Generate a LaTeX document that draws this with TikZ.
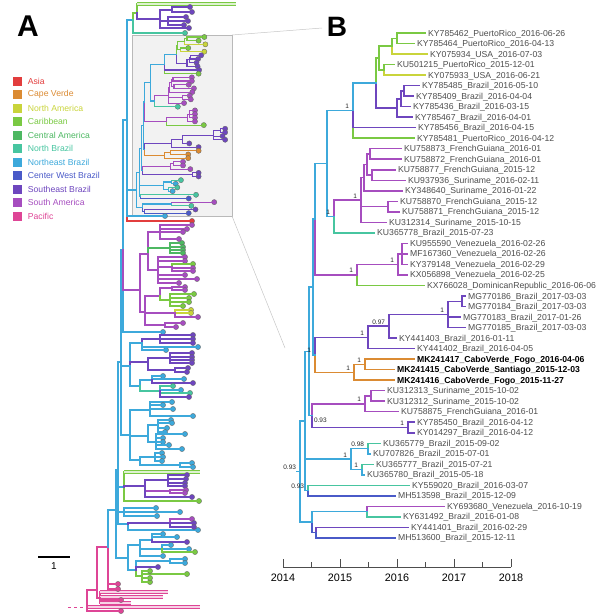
\documentclass[tikz,border=0pt]{standalone}
\usepackage{fontspec}
\setmainfont{Liberation Sans}
\usetikzlibrary{positioning}

\definecolor{asia}{HTML}{E23D3D}
\definecolor{cvd}{HTML}{DB8B33}
\definecolor{nam}{HTML}{C9D43B}
\definecolor{carib}{HTML}{7AC943}
\definecolor{cam}{HTML}{4DB862}
\definecolor{nbr}{HTML}{47C5A0}
\definecolor{nebr}{HTML}{3DA9DB}
\definecolor{cwbr}{HTML}{4A5AC8}
\definecolor{sebr}{HTML}{6E46BE}
\definecolor{sam}{HTML}{A64DBF}
\definecolor{pac}{HTML}{DE4596}
\definecolor{labgray}{HTML}{4D4D4D}

\newcommand{\tipfont}{\fontsize{8.65}{9}\selectfont}
\newcommand{\taxon}[1]{#1}

\tikzset{
  br/.style={line width=1.5pt, line cap=rect},
  abr/.style={line width=1.1pt, line cap=rect},
  tipdot/.style={circle, draw=black!60, line width=0.35pt, fill=#1, inner sep=0pt, minimum size=5.2pt, anchor=west},
  label tip/.style={anchor=west, inner xsep=3pt, inner ysep=0pt, text height=7pt, text depth=1pt, text=labgray, font=\tipfont},
  bold tip/.style={font=\tipfont\bfseries, text=black},
  supp/.style={anchor=south east, inner sep=0.8pt, xshift=-3pt, yshift=1pt, font=\fontsize{6.5}{7}\selectfont, text=black!85},
  barbr/.style={draw=#1, double=#1!25, double distance=1.6pt, line width=0.8pt},
  legsq/.style={rectangle, inner sep=0pt, minimum size=9pt},
  legtx/.style={font=\tipfont, inner sep=1pt, anchor=west},
}

% comb of tip dots hanging from one node
\newcommand{\tips}[2]{%
  \foreach \tx/\ty/\tc in {#2} {
    \node[tipdot=\tc, anchor=center] (leafdot) at (\tx,\ty) {};
    \draw[abr, draw=\tc] (#1) |- (leafdot);
  }}

% the Cabo Verde subtree, drawn in panel B and again inside the box of panel A
\newcommand{\zikatree}{%
  \node[leaf=carib] (t1) at (425,1) {\taxon{KY785462\_PuertoRico\_2016-06-26}};
  \node[leaf=carib] (t2) at (414,2) {\taxon{KY785464\_PuertoRico\_2016-04-13}};
  \node[leaf=nam] (t3) at (427,3) {\taxon{KY075934\_USA\_2016-07-03}};
  \node[leaf=carib] (t4) at (394,4) {\taxon{KU501215\_PuertoRico\_2015-12-01}};
  \node[leaf=nam] (t5) at (425,5) {\taxon{KY075933\_USA\_2016-06-21}};
  \node[leaf=sebr] (t6) at (419,6) {\taxon{KY785485\_Brazil\_2016-05-10}};
  \node[leaf=sebr] (t7) at (413,7) {\taxon{KY785409\_Brazil\_2016-04-04}};
  \node[leaf=sebr] (t8) at (410,8) {\taxon{KY785436\_Brazil\_2016-03-15}};
  \node[leaf=sebr] (t9) at (412,9) {\taxon{KY785467\_Brazil\_2016-04-01}};
  \node[leaf=sebr] (t10) at (415,10) {\taxon{KY785456\_Brazil\_2016-04-15}};
  \node[leaf=carib] (t11) at (414,11) {\taxon{KY785481\_PuertoRico\_2016-04-12}};
  \node[leaf=sam] (t12) at (401,12) {\taxon{KU758873\_FrenchGuiana\_2016-01}};
  \node[leaf=sam] (t13) at (401,13) {\taxon{KU758872\_FrenchGuiana\_2016-01}};
  \node[leaf=sam] (t14) at (395,14) {\taxon{KU758877\_FrenchGuiana\_2015-12}};
  \node[leaf=sam] (t15) at (405,15) {\taxon{KU937936\_Suriname\_2016-02-11}};
  \node[leaf=sam] (t16) at (402,16) {\taxon{KY348640\_Suriname\_2016-01-22}};
  \node[leaf=sam] (t17) at (397,17) {\taxon{KU758870\_FrenchGuiana\_2015-12}};
  \node[leaf=sam] (t18) at (399,18) {\taxon{KU758871\_FrenchGuiana\_2015-12}};
  \node[leaf=sam] (t19) at (386,19) {\taxon{KU312314\_Suriname\_2015-10-15}};
  \node[leaf=nbr] (t20) at (374,20) {\taxon{KU365778\_Brazil\_2015-07-23}};
  \node[leaf=sam] (t21) at (407,21) {\taxon{KU955590\_Venezuela\_2016-02-26}};
  \node[leaf=sam] (t22) at (407,22) {\taxon{MF167360\_Venezuela\_2016-02-26}};
  \node[leaf=sam] (t23) at (407,23) {\taxon{KY379148\_Venezuela\_2016-02-29}};
  \node[leaf=sam] (t24) at (407,24) {\taxon{KX056898\_Venezuela\_2016-02-25}};
  \node[leaf=carib] (t25) at (424,25) {\taxon{KX766028\_DominicanRepublic\_2016-06-06}};
  \node[leaf=sebr] (t26) at (465,26) {\taxon{MG770186\_Brazil\_2017-03-03}};
  \node[leaf=sebr] (t27) at (465,27) {\taxon{MG770184\_Brazil\_2017-03-03}};
  \node[leaf=sebr] (t28) at (460,28) {\taxon{MG770183\_Brazil\_2017-01-26}};
  \node[leaf=sebr] (t29) at (465,29) {\taxon{MG770185\_Brazil\_2017-03-03}};
  \node[leaf=sebr] (t30) at (396,30) {\taxon{KY441403\_Brazil\_2016-01-11}};
  \node[leaf=sebr] (t31) at (414,31) {\taxon{KY441402\_Brazil\_2016-04-05}};
  \node[leaf=cvd, bold tip] (t32) at (414,32) {\taxon{MK241417\_CaboVerde\_Fogo\_2016-04-06}};
  \node[leaf=cvd, bold tip] (t33) at (394,33) {\taxon{MK241415\_CaboVerde\_Santiago\_2015-12-03}};
  \node[leaf=cvd, bold tip] (t34) at (394,34) {\taxon{MK241416\_CaboVerde\_Fogo\_2015-11-27}};
  \node[leaf=sam] (t35) at (384,35) {\taxon{KU312313\_Suriname\_2015-10-02}};
  \node[leaf=sam] (t36) at (384,36) {\taxon{KU312312\_Suriname\_2015-10-02}};
  \node[leaf=sam] (t37) at (398,37) {\taxon{KU758875\_FrenchGuiana\_2016-01}};
  \node[leaf=sebr] (t38) at (414,38) {\taxon{KY785450\_Brazil\_2016-04-12}};
  \node[leaf=sebr] (t39) at (414,39) {\taxon{KY014297\_Brazil\_2016-04-12}};
  \node[leaf=nbr] (t40) at (380,40) {\taxon{KU365779\_Brazil\_2015-09-02}};
  \node[leaf=nebr] (t41) at (370,41) {\taxon{KU707826\_Brazil\_2015-07-01}};
  \node[leaf=nbr] (t42) at (373,42) {\taxon{KU365777\_Brazil\_2015-07-21}};
  \node[leaf=nebr] (t43) at (364,43) {\taxon{KU365780\_Brazil\_2015-05-18}};
  \node[leaf=nbr] (t44) at (409,44) {\taxon{KY559020\_Brazil\_2016-03-07}};
  \node[leaf=cwbr] (t45) at (395,45) {\taxon{MH513598\_Brazil\_2015-12-09}};
  \node[leaf=sam] (t46) at (444,46) {\taxon{KY693680\_Venezuela\_2016-10-19}};
  \node[leaf=nbr] (t47) at (400,47) {\taxon{KY631492\_Brazil\_2016-01-08}};
  \node[leaf=sebr] (t48) at (408,48) {\taxon{KY441401\_Brazil\_2016-02-29}};
  \node[leaf=cwbr] (t49) at (395,49) {\taxon{MH513600\_Brazil\_2015-12-11}};
  % internal nodes
  \coordinate (g3) at (397,1.5);
  \coordinate (g1) at (392,2.25);
  \coordinate (g2) at (384,4.5);
  \coordinate (g) at (379,3.375);
  \coordinate (p2) at (404,6.5);
  \coordinate (p1) at (401,7.25);
  \coordinate (p) at (397,8.125);
  \coordinate (a) at (376,5.75);
  \coordinate (n1) at (353,8.375);
  \coordinate (f1b) at (370,12.5);
  \coordinate (f1c) at (372,14.5);
  \coordinate (f1a) at (367,13.5);
  \coordinate (f1) at (364,14.75);
  \coordinate (f2) at (388,17.5);
  \coordinate (f) at (361,16.875);
  \coordinate (fg) at (334,18.44);
  \coordinate (nt) at (327,13.41);
  \coordinate (v2) at (402,22);
  \coordinate (v1) at (398,23);
  \coordinate (v) at (357,24);
  \coordinate (u) at (315,18.7);
  \coordinate (m3) at (462,26.5);
  \coordinate (m2) at (448,27.75);
  \coordinate (m1) at (389,28.875);
  \coordinate (m) at (368,29.94);
  \coordinate (c1) at (365,32.5);
  \coordinate (c) at (354,33.25);
  \coordinate (mc) at (315,31.6);
  \coordinate (w) at (313,25.15);
  \coordinate (s1) at (371,35.5);
  \coordinate (s) at (365,36.25);
  \coordinate (k) at (408,38.5);
  \coordinate (sk) at (312,37.375);
  \coordinate (q) at (309,31.26);
  \coordinate (kb1) at (368,40.5);
  \coordinate (kb2) at (362,42.5);
  \coordinate (kb) at (351,41.5);
  \coordinate (b2) at (308,44.5);
  \coordinate (r1) at (305,37.88);
  \coordinate (x1) at (367,46.5);
  \coordinate (x2) at (316,48.5);
  \coordinate (r2) at (312,47.5);
  \coordinate (root) at (300,42.69);
  % branches
  \foreach \c in {t1,t2} \draw[br,carib] (g3) |- (\c);
  \draw[br,carib] (g1) |- (g3);
  \draw[br,nam] (g1) |- (t3);
  \draw[br,carib] (g2) |- (t4);
  \draw[br,nam] (g2) |- (t5);
  \draw[br,carib] (g) |- (g1);
  \draw[br,carib] (g) |- (g2);
  \foreach \c in {t6,t7} \draw[br,sebr] (p2) |- (\c);
  \draw[br,sebr] (p1) |- (p2);
  \draw[br,sebr] (p1) |- (t8);
  \draw[br,sebr] (p) |- (p1);
  \draw[br,sebr] (p) |- (t9);
  \draw[br,carib] (a) |- (g);
  \draw[br,sebr] (a) |- (p);
  \draw[br,carib] (n1) |- (t11);
  \draw[br,sebr] (n1) |- (t10);
  \draw[br,nebr] (n1) |- (a);
  \foreach \c in {t12,t13} \draw[br,sam] (f1b) |- (\c);
  \foreach \c in {t14,t15} \draw[br,sam] (f1c) |- (\c);
  \foreach \c in {f1b,f1c} \draw[br,sam] (f1a) |- (\c);
  \foreach \c in {f1a,t16} \draw[br,sam] (f1) |- (\c);
  \foreach \c in {t17,t18} \draw[br,sam] (f2) |- (\c);
  \foreach \c in {t19,f2,f1} \draw[br,sam] (f) |- (\c);
  \draw[br,nbr] (fg) |- (t20);
  \draw[br,sam] (fg) |- (f);
  \draw[br,nebr] (nt) |- (n1);
  \draw[br,nebr] (nt) |- (fg);
  \foreach \c in {t21,t22,t23} \draw[br,sam] (v2) |- (\c);
  \foreach \c in {v2,t24} \draw[br,sam] (v1) |- (\c);
  \draw[br,sam] (v) |- (v1);
  \draw[br,carib] (v) |- (t25);
  \draw[br,nebr] (u) |- (nt);
  \draw[br,sam] (u) |- (v);
  \foreach \c in {t26,t27} \draw[br,sebr] (m3) |- (\c);
  \foreach \c in {t29,t28,m3} \draw[br,sebr] (m2) |- (\c);
  \foreach \c in {m2,t30} \draw[br,sebr] (m1) |- (\c);
  \foreach \c in {m1,t31} \draw[br,sebr] (m) |- (\c);
  \foreach \c in {t32,t33} \draw[br,cvd] (c1) |- (\c);
  \foreach \c in {c1,t34} \draw[br,cvd] (c) |- (\c);
  \draw[br,sebr] (mc) |- (m);
  \draw[br,cvd] (mc) |- (c);
  \draw[br,nebr] (w) |- (u);
  \draw[br,nebr] (w) |- (mc);
  \foreach \c in {t35,t36} \draw[br,sam] (s1) |- (\c);
  \foreach \c in {s1,t37} \draw[br,sam] (s) |- (\c);
  \foreach \c in {t38,t39} \draw[br,sebr] (k) |- (\c);
  \draw[br,sam] (sk) |- (s);
  \draw[br,sebr] (sk) |- (k);
  \draw[br,nebr] (q) |- (w);
  \draw[br,nebr] (q) |- (sk);
  \draw[br,nbr] (kb1) |- (t40);
  \draw[br,nebr] (kb1) |- (t41);
  \draw[br,nbr] (kb2) |- (t42);
  \draw[br,nebr] (kb2) |- (t43);
  \foreach \c in {kb1,kb2} \draw[br,nebr] (kb) |- (\c);
  \draw[br,nbr] (b2) |- (t44);
  \draw[br,cwbr] (b2) |- (t45);
  \foreach \c in {q,kb,b2} \draw[br,nebr] (r1) |- (\c);
  \draw[br,sam] (x1) |- (t46);
  \draw[br,nbr] (x1) |- (t47);
  \draw[br,sebr] (x2) |- (t48);
  \draw[br,cwbr] (x2) |- (t49);
  \draw[br,nebr] (r2) |- (x1);
  \draw[br,cwbr] (r2) |- (x2);
  \foreach \c in {r1,r2} \draw[br,nebr] (root) |- (\c);
}

\begin{document}
\begin{tikzpicture}[x=1pt, y=-1pt]
\useasboundingbox (0,0) rectangle (600,616);

% zoom box and its guide lines
\draw[gray!55, fill=gray!10, line width=0.8pt] (132,35) rectangle (232,216);
\draw[gray!45, line width=0.5pt] (232,35) -- (322,28);
\draw[gray!45, line width=0.5pt] (232,216) -- (285,348);

% panel letters
\node[font=\fontsize{30}{30}\selectfont\bfseries] (lblA) at (28,26) {A};
\node[font=\fontsize{28}{28}\selectfont\bfseries] (lblB) at (337,27) {B};

% legend
\foreach \nm/\cl [count=\i from 0] in {Asia/asia, Cape Verde/cvd, North America/nam, Caribbean/carib, Central America/cam, North Brazil/nbr, Northeast Brazil/nebr, Center West Brazil/cwbr, Southeast Brazil/sebr, South America/sam, Pacific/pac}
{
	\node[legsq, fill=\cl] (sq\i) at (17.5,81+13.5*\i) {};
	\node[legtx, text=\cl, right=4.5pt of sq\i] {\nm};
}

% scale bar
\coordinate (sbl) at (38,557);
\coordinate (sbr) at (70,557);
\draw[line width=1.5pt] (sbl) -- (sbr) node[midway, below=2pt, font=\fontsize{10}{10}\selectfont] {1};

% time axis of panel B
\draw[labgray, line width=0.7pt] (283,567) -- (511,567);
\foreach \yr [count=\i from 0] in {2014,2015,2016,2017,2018} {
	\draw[labgray, line width=0.7pt] (283+57*\i,567) -- (283+57*\i,559);
	\node[font=\fontsize{10.8}{11}\selectfont, anchor=north] at (283+57*\i,570) {\yr};
}
\foreach \i in {0,...,3}
	\draw[labgray, line width=0.7pt] (311.5+57*\i,567) -- (311.5+57*\i,562);

% ---- panel A: full tree ----
% Pacific root
\coordinate (pkin) at (68,607);
\coordinate (pk0) at (87,607);
\coordinate (pk1) at (97,590);
\coordinate (pk2) at (108,547);
\coordinate (pk3) at (100,598);
\coordinate (pkbar0) at (200,607);
\coordinate (pkbar1) at (168,592);
\coordinate (pkbar2) at (163,597);
\coordinate (pkbar3) at (131,603);
\draw[pac, dashed, line width=0.9pt] (pkin) -- (pk0);
\draw[abr,pac] (pk0) |- (pk1);
\draw[barbr=pac] (pk0) -- (pkbar0);
\tips{pk0}{121/611/pac}
\draw[abr,pac] (pk1) |- (pk2);
\draw[abr,pac] (pk1) |- (pk3);
\foreach \b in {pkbar1,pkbar2,pkbar3} {
	\draw[abr,pac] (pk3) |- (pk3 |- \b);
	\draw[barbr=pac] (pk3 |- \b) -- (\b);
}
\tips{pk3}{121/600/pac}
\tips{pk2}{118/589/pac, 118/584/pac}

% backbone
\coordinate (sp0) at (116,510);
\coordinate (sp1) at (118,470);
\coordinate (sp2) at (121,362);
\coordinate (sp3) at (123,250);
\coordinate (sp4) at (127,120);
\draw[abr,nebr] (pk2) |- (sp0);
\draw[abr,nebr] (sp0) |- (sp1);
\draw[abr,nebr] (sp1) |- (sp2);
\draw[abr,nebr] (sp2) |- (sp3);
\draw[abr,nebr] (sp3) |- (sp4);

% top clade
\coordinate (tc) at (133,20);
\coordinate (tg) at (137,13);
\coordinate (tpu) at (160,19);
\coordinate (tpa) at (172,10);
\coordinate (tpb) at (168,21);
\coordinate (gbar) at (236,4);
\draw[abr,nebr] (sp4) |- (tc);
\draw[abr,carib] (tc) |- (tg);
\draw[abr,carib] (tg) |- (tg |- gbar);
\draw[barbr=carib] (tg |- gbar) -- (gbar);
\draw[abr,sebr] (tg) |- (tpu);
\draw[abr,sebr] (tpu) |- (tpa);
\draw[abr,sebr] (tpu) |- (tpb);
\tips{tpa}{190/7/sebr, 192/12/sebr}
\tips{tpb}{186/17/sebr, 188/21/sebr, 184/25/sebr}
\tips{tpu}{189/28/sebr}
\tips{tc}{185/33/nbr}

% the boxed subtree (same as panel B)
\tips{sp4}{192/221/asia}
\begin{scope}[leaf/.style={tipdot=#1}, br/.style={abr}, x=0.52pt, xshift=-19.44pt, y=-3.67pt, yshift=-33.33pt, name prefix=a-]
	\renewcommand{\taxon}[1]{}
	\zikatree
\end{scope}
\draw[abr,nebr] (sp4) |- (a-root);
\tips{sp4}{165/216/nebr}

% South America clade
\coordinate (sa) at (140,290);
\coordinate (saA) at (148,254);
\coordinate (saA1) at (160,232);
\coordinate (saA2) at (170,248);
\coordinate (saA3) at (158,270);
\coordinate (saA3a) at (172,267);
\coordinate (saB) at (145,312);
\coordinate (saB1) at (160,296);
\coordinate (saB1a) at (172,288);
\coordinate (saB1g) at (170,300);
\coordinate (saB2) at (175,313);
\coordinate (saB3) at (165,325);
\tips{sp3}{163/332/nebr}
\draw[abr,sam] (sp3) |- (sa);
\draw[abr,sam] (sa) |- (saA);
\draw[abr,sam] (sa) |- (saB);
\draw[abr,sam] (saA) |- (saA1);
\draw[abr,cam] (saA) |- (saA2);
\draw[abr,sam] (saA) |- (saA3);
\draw[abr,sam] (saA3) |- (saA3a);
\tips{saA1}{192/225/sam, 187/229/sam, 183/232/sam, 179/239/sam}
\tips{saA2}{182/243/cam, 183/247/cam, 183/250/cam, 183/253/cam}
\tips{saA3}{185/257/sam, 185/261/sam, 179/283/sam, 197/279/sam, 185/275/sam}
\tips{saA3a}{193/264/carib, 193/268/sam, 193/271/sam}
\draw[abr,sam] (saB) |- (saB1);
\draw[abr,sam] (saB) |- (saB2);
\draw[abr,sam] (saB) |- (saB3);
\draw[abr,sam] (saB1) |- (saB1a);
\draw[abr,carib] (saB1) |- (saB1g);
\tips{saB1a}{185/287/sam, 185/290/sam}
\tips{saB1g}{194/294/carib, 189/298/carib, 189/302/carib, 183/306/carib}
\tips{saB2}{191/310/nam, 191/313/nam, 198/317/sam}
\tips{saB3}{183/323/sam, 176/327/sam}

% Southeast Brazil / Northeast Brazil clades
\coordinate (mu) at (130,366);
\coordinate (muA) at (142,343);
\coordinate (muA1) at (160,339);
\coordinate (muC) at (148,362);
\coordinate (muC1) at (170,358);
\coordinate (muC2) at (175,370);
\coordinate (muB) at (140,386);
\coordinate (muB1) at (152,380);
\coordinate (muB2) at (160,391);
\draw[abr,nebr] (sp2) |- (mu);
\draw[abr,nebr] (mu) |- (muA);
\draw[abr,sebr] (mu) |- (muC);
\draw[abr,nebr] (mu) |- (muB);
\draw[abr,sebr] (muA) |- (muA1);
\tips{muA1}{193/335/sebr, 193/339/sebr, 193/343/sebr}
\tips{muA}{166/350/nebr, 198/347/nebr}
\draw[abr,sebr] (muC) |- (muC1);
\draw[abr,sebr] (muC) |- (muC2);
\tips{muC1}{192/353/sebr, 192/357/sebr, 192/360/sebr, 192/363/sebr}
\tips{muC2}{188/368/sebr, 187/372/sebr}
\draw[abr,nebr] (muB) |- (muB1);
\draw[abr,nbr] (muB) |- (muB2);
\tips{muB1}{163/376/nebr, 184/379/nebr, 193/383/sebr}
\tips{muB2}{173/386/nbr, 181/390/nebr, 190/393/nbr, 189/397/sebr}

\coordinate (nb) at (130,435);
\coordinate (nbA) at (150,410);
\coordinate (nbB) at (148,436);
\coordinate (nbB1) at (158,425);
\coordinate (nbB2) at (156,442);
\coordinate (nbC) at (140,460);
\coordinate (nbC1) at (155,457);
\coordinate (nbC2) at (180,465);
\draw[abr,nebr] (sp2) |- (nb);
\foreach \c in {nbA,nbB,nbC} \draw[abr,nebr] (nb) |- (\c);
\foreach \c in {nbB1,nbB2} \draw[abr,nebr] (nbB) |- (\c);
\foreach \c in {nbC1,nbC2} \draw[abr,nebr] (nbC) |- (\c);
\tips{nbA}{172/402/nebr, 163/405/nebr, 173/409/nebr, 193/416/nebr}
\tips{nbB1}{171/420/nebr, 172/423/nebr, 167/428/nebr, 165/432/nebr}
\tips{nbB2}{185/434/nebr, 163/438/nebr, 163/442/nebr, 169/445/nebr, 182/449/nebr}
\tips{nbC1}{162/453/nebr, 163/457/nebr, 162/461/nebr}
\tips{nbC2}{192/463/nebr, 193/467/nebr}

% lower clades
\coordinate (gb) at (124,487);
\coordinate (gbar2) at (200,472);
\coordinate (pm) at (145,486);
\coordinate (pm1) at (168,480);
\coordinate (pm2) at (170,491);
\draw[abr,nebr] (sp1) |- (gb);
\draw[abr,carib] (gb) |- (gb |- gbar2);
\draw[barbr=carib] (gb |- gbar2) -- (gbar2);
\tips{gb}{199/501/carib}
\draw[abr,sebr] (gb) |- (pm);
\draw[abr,sebr] (pm) |- (pm1);
\draw[abr,sam] (pm) |- (pm2);
\tips{pm}{192/497/sebr}
\tips{pm1}{187/475/sebr, 186/479/sebr, 185/483/sebr, 185/486/sebr}
\tips{pm2}{186/490/sam, 185/493/sam}

\coordinate (nl) at (124,512);
\coordinate (nm) at (128,524);
\coordinate (nm1) at (170,523);
\draw[abr,nebr] (sp1) |- (nl);
\tips{nl}{156/508/nebr, 180/512/nebr, 157/516/nebr}
\draw[abr,nebr] (sp1) |- (nm);
\tips{nm}{198/530/nebr}
\draw[abr,sebr] (nm) |- (nm1);
\tips{nm1}{192/519/sam, 194/523/sebr, 194/527/sebr}

\coordinate (lo) at (128,558);
\coordinate (lo1) at (140,545);
\coordinate (lo1a) at (152,540);
\coordinate (lo1b) at (162,549);
\coordinate (lo2) at (136,570);
\coordinate (lo2a) at (170,561);
\coordinate (lo2g) at (142,576);
\draw[abr,nebr] (sp0) |- (lo);
\draw[abr,nebr] (lo) |- (lo1);
\draw[abr,nebr] (lo) |- (lo2);
\draw[abr,nebr] (lo1) |- (lo1a);
\draw[abr,nebr] (lo1) |- (lo1b);
\tips{lo1}{163/556/nebr}
\tips{lo1a}{163/534/nebr, 177/537/nebr, 187/542/sebr}
\tips{lo1b}{171/545/nebr, 189/549/nebr, 195/552/carib}
\draw[abr,carib] (lo2) |- (lo2g);
\draw[abr,nebr] (lo2) |- (lo2a);
\tips{lo2}{158/567/sebr}
\tips{lo2a}{185/559/nebr, 185/563/nebr}
\tips{lo2g}{150/582/carib, 150/578/carib, 187/574/carib, 150/571/carib}

% ---- panel B: time tree ----
\begin{scope}[leaf/.style={label tip}, y=-10.52pt, yshift=-22.48pt]
	\zikatree
	\draw[br,nebr] ([xshift=-3pt]root) -- (root);
	\foreach \n in {n1,fg,f,v1,v,m2,m,c1,c,mc,s,k,kb,kb2}
		\node[supp] at (\n) {1};
	\node[supp] at (m1) {0.97};
	\node[supp] at (kb1) {0.98};
	\node[supp] at (root) {0.93};
	\node[supp] at (b2) {0.93};
	\node[supp, anchor=north west, xshift=4pt, yshift=-2pt] at (sk) {0.93};
\end{scope}

\end{tikzpicture}
\end{document}
